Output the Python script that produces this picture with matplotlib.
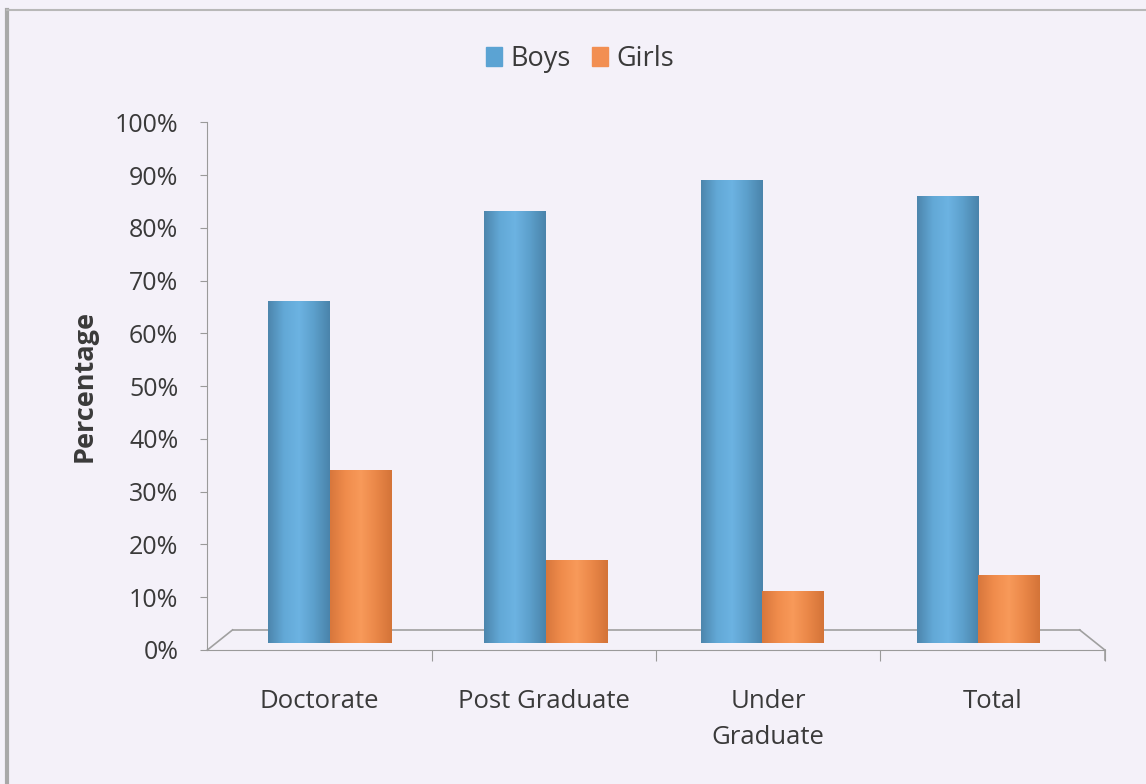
import numpy as np
import matplotlib
matplotlib.use("Agg")
import matplotlib.pyplot as plt
from matplotlib.colors import LinearSegmentedColormap
from matplotlib.patches import Patch

categories = ["Doctorate", "Post Graduate", "Under\nGraduate", "Total"]
boys = [66, 83, 89, 86]
girls = [34, 17, 11, 14]
yticks = [0, 10, 20, 30, 40, 50, 60, 70, 80, 90, 100]

plt.rcParams['font.family'] = ['Open Sans', 'DejaVu Sans']

bg = "#f4f1f9"
txt = "#3a3a3a"
boys_cmap = LinearSegmentedColormap.from_list("b", ["#4d86ad", "#62a8d6", "#6cb3e2", "#5c9fcb", "#4a84ab"])
girls_cmap = LinearSegmentedColormap.from_list("g", ["#d8773c", "#f08c4c", "#f89a5a", "#ea8748", "#d47438"])

fig = plt.figure(figsize=(11.46, 7.84), dpi=100, facecolor=bg)
ax = fig.add_axes([0.181, 0.171, 0.783, 0.673])
ax.set_facecolor(bg)

# bars drift slightly toward the centre because of the 3D perspective
x = np.arange(len(categories)) * 0.963 + 0.047
w = 0.275
grad = np.linspace(0, 1, 64).reshape(1, -1)

def draw_bars(xs, vals, cmap):
    for xi, v in zip(xs, vals):
        ax.imshow(grad, cmap=cmap, aspect="auto", extent=(xi - w / 2, xi + w / 2, 1.3, v),
                  zorder=3, interpolation="bilinear")

draw_bars(x - w / 2, boys, boys_cmap)
draw_bars(x + w / 2, girls, girls_cmap)

ax.set_xlim(-0.5, len(categories) - 0.5)
ax.set_ylim(0, 100)
ax.set_yticks(yticks)
ax.set_yticklabels([f"{t}%" for t in yticks], fontsize=18, color=txt)
ax.set_xticks(np.arange(len(categories)) + 0.5)
ax.set_xticks(np.arange(len(categories)), minor=True)
ax.set_xticklabels([])
ax.set_xticklabels(categories, minor=True, fontsize=18.5, color=txt, linespacing=1.6)
ax.tick_params(axis="x", which="minor", length=0, pad=28)
ax.tick_params(axis="x", which="major", length=8, color="#9a9a9a", direction="out")
ax.tick_params(axis="y", length=5, color="#9a9a9a", pad=16)
ax.set_ylabel("Percentage", fontsize=19.5, fontweight="bold", color=txt, labelpad=12)

for s in ["top", "right"]:
    ax.spines[s].set_visible(False)
ax.spines["left"].set_color("#9a9a9a")
ax.spines["bottom"].set_color("#9a9a9a")

# 3D floor outline
ax.plot([0.0, 0.028], [0, 0.038], transform=ax.transAxes, color="#a0a0a0", lw=1.2, clip_on=False, zorder=2)
ax.plot([0.028, 0.972], [0.038, 0.038], transform=ax.transAxes, color="#a0a0a0", lw=1.2, clip_on=False, zorder=2)
ax.plot([0.972, 1.0], [0.038, 0], transform=ax.transAxes, color="#a0a0a0", lw=1.2, clip_on=False, zorder=2)
ax.plot([1.0, 1.0], [0, -0.02], transform=ax.transAxes, color="#a0a0a0", lw=1.2, clip_on=False)

handles = [Patch(color="#5ba3d3", label="Boys"), Patch(color="#f28f52", label="Girls")]
fig.legend(handles=handles, loc="center", bbox_to_anchor=(0.506, 0.925), ncol=2, frameon=False,
           fontsize=19.5, handlelength=0.6, handleheight=0.7, handletextpad=0.3, columnspacing=0.8,
           labelcolor=txt)

# scan border
fig.add_artist(plt.Line2D([0.006, 0.006], [0, 0.987], color="#a8a8a8", lw=3))
fig.add_artist(plt.Line2D([0.006, 1.0], [0.987, 0.987], color="#b8b8b8", lw=1.5))

fig.savefig("out.png", dpi=100, facecolor=bg)
